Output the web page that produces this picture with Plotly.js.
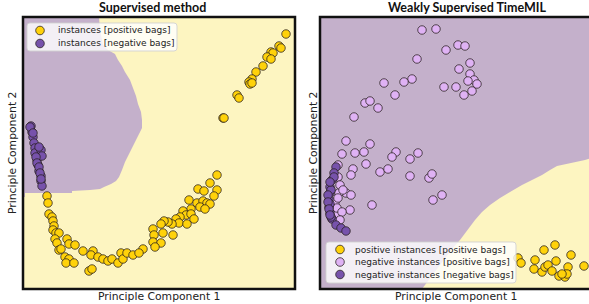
<!DOCTYPE html>
<html>
<head>
<meta charset="utf-8">
<script src="https://cdn.plot.ly/plotly-3.0.1.min.js"></script>
<style>html,body{margin:0;padding:0;background:#fff;}#chart{width:589px;height:304px;}</style>
</head>
<body>
<div id="chart"></div>
<script>
// ---------------- Data (PCA coordinates) ----------------
// Left panel: Supervised method
const supPosX = [263,256,258,248,250,244,248,240,233,229,226,227,229,214,216,200,201,
  194,187,175,181,194,191,166,174,180,184,187,177,182,168,160,163,168,171,157,153,156,164,149,145,141,138,150,130,131,140,130,138,132,120,
  24,25,26,29,30,31,30,33,36,32,34,36,38,44,46,52,42,46,43,51,60,70,68,75,80,85,89,95,98,100,104,110,116,66,69];
const supPosY = [255,243,241,237,236,232,230,223,217,210,207,205,206,194,191,171,171,
  114,106,100,98,99,93,89,86,88,86,85,82,80,80,78,74,75,70,72,70,66,65,65,67,68,65,54,60,54,56,47,46,42,40,
  93,86,75,72,68,63,59,56,56,50,46,39,40,50,45,44,32,30,26,26,38,38,34,32,30,28,30,26,36,30,36,34,36,18,20];
const supNegX = [8,9,10,11,12,12,14,15,16,18,18,19,18,19,16,7,10,13,14,16,17,18];
const supNegY = [163,157,152,146,141,136,129,124,118,113,108,103,139,133,142,162,156,132,126,122,116,110];
// decision region (negative class) boundary, left panel
const supRegionX = [0,76,77,80,85,92,95,99,102,107,110,113,115,118,119,119,116,113,109,105,102,99,96,93,88,81,77,67,49,49,2,2,0,0];
const supRegionY = [272,272,259,244,239,235,229,223,217,209,201,193,185,177,169,161,155,149,142,134,127,119,112,108,105,102,100,99,98,96,96,92,92,272];

// Right panel: Weakly Supervised TimeMIL
const milPosX = [224,235,251,264,198,201,215,236,214,222,225,228,232,239,245,248,247,242];
const milPosY = [39,44,34,23,31,26,29,28,20,17,22,24,18,13,12,22,15,15];
const milNegPosX = [102,116,126,138,145,97,150,139,150,154,148,157,152,144,136,124,92,84,64,75,45,50,58,34,26,50,22,35,44,76,98,72,90,46,33,31,60,68,90,109,112,18,18,26,31,52,30,113,122,15,16,19,18,20,23,17,22,20];
const milNegPosY = [259,260,239,244,243,230,226,220,215,209,208,205,198,194,202,202,210,207,206,194,186,188,181,172,148,145,135,136,137,137,136,132,130,125,120,114,117,120,113,111,115,124,112,96,94,84,79,89,94,87,74,96,91,104,99,81,77,69];
const milNegNegX = [16,14,12,10,10,9,9,10,12,16,21,26,14,11,10,11,10,8,8,9,10];
const milNegNegY = [122,116,109,102,96,89,82,76,70,64,61,58,112,99,85,72,107,94,87,80,74];
// decision region (negative class) boundary, right panel
const milRegionX = [0,0,272,272,265,255,245,237,230,222,212,202,190,180,170,162,155,148,140,132,126,120,115,110,105,102,0];
const milRegionY = [0,272,272,131,129,127,125,123,119,114,109,104,97,91,84,77,69,60,49,40,32,24,17,10,4,0,0];

// legend labels
const supLabels = ['instances [positive bags]', 'instances [negative bags]'];
const milLabels = ['positive instances [positive bags]', 'negative instances [positive bags]', 'negative instances [negative bags]'];
const panelTitles = ['Supervised method', 'Weakly Supervised TimeMIL'];
const xTitle = 'Principle Component 1';
const yTitle = 'Principle Component 2';

// ---------------- Styling ----------------
const PURPLE_BG = '#c4b0cb';
const YELLOW_BG = '#fdf5c1';
const YELLOW = '#ffd20a';
const LIGHT = '#dfb2f4';
const DARK = '#7752ab';
const EDGE = 'rgba(40,30,30,0.85)';
const W = 589, H = 304;
const px = v => v / W, py = v => 1 - v / H;

function region(x, y, xa, ya) {
  return {x, y, xaxis: xa, yaxis: ya, type: 'scatter', mode: 'lines', fill: 'toself',
    fillcolor: PURPLE_BG, line: {width: 0, color: PURPLE_BG}, hoverinfo: 'skip', showlegend: false};
}
function pts(x, y, color, name, xa, ya) {
  return {x, y, xaxis: xa, yaxis: ya, type: 'scatter', mode: 'markers', name, showlegend: false,
    marker: {size: 8.5, color, line: {width: 0.9, color: EDGE}}};
}

const data = [
  region(supRegionX, supRegionY, 'x', 'y'),
  region(milRegionX, milRegionY, 'x2', 'y2'),
  pts(supPosX, supPosY, YELLOW, supLabels[0], 'x', 'y'),
  pts(supNegX, supNegY, DARK, supLabels[1], 'x', 'y'),
  pts(milPosX, milPosY, YELLOW, milLabels[0], 'x2', 'y2'),
  pts(milNegPosX, milNegPosY, LIGHT, milLabels[1], 'x2', 'y2'),
  pts(milNegNegX, milNegNegY, DARK, milLabels[2], 'x2', 'y2')
];

const axBase = {showgrid: false, zeroline: false, showticklabels: false, ticks: '', showline: false, fixedrange: true};

// legend builder (drawn as shapes + annotations for compact matplotlib-like rows)
const shapes = [];
const annotations = [];
function roundRect(x0, y0, x1, y1, r) {
  // pixel coords -> paper path
  const X = v => px(v), Y = v => py(v);
  return `M${X(x0 + r)},${Y(y0)} L${X(x1 - r)},${Y(y0)} Q${X(x1)},${Y(y0)} ${X(x1)},${Y(y0 + r)} ` +
         `L${X(x1)},${Y(y1 - r)} Q${X(x1)},${Y(y1)} ${X(x1 - r)},${Y(y1)} L${X(x0 + r)},${Y(y1)} ` +
         `Q${X(x0)},${Y(y1)} ${X(x0)},${Y(y1 - r)} L${X(x0)},${Y(y0 + r)} Q${X(x0)},${Y(y0)} ${X(x0 + r)},${Y(y0)} Z`;
}
function buildLegend(box, markerX, textX, rowsY, labels, colors) {
  shapes.push({type: 'path', xref: 'paper', yref: 'paper', path: roundRect(box[0], box[1], box[2], box[3], 3),
    fillcolor: 'rgba(255,255,255,0.8)', line: {color: 'rgba(210,210,210,0.9)', width: 1}, layer: 'above'});
  labels.forEach((lab, i) => {
    shapes.push({type: 'circle', xref: 'paper', yref: 'paper', xsizemode: 'pixel', ysizemode: 'pixel',
      xanchor: px(markerX), yanchor: py(rowsY[i]), x0: -4.3, x1: 4.3, y0: -4.3, y1: 4.3,
      fillcolor: colors[i], line: {color: EDGE, width: 0.9}, layer: 'above'});
    annotations.push({text: lab, xref: 'paper', yref: 'paper', x: px(textX), y: py(rowsY[i]),
      xanchor: 'left', yanchor: 'middle', showarrow: false,
      font: {family: 'DejaVu Sans', size: 9, color: '#222'}});
  });
}
buildLegend([27, 23, 177, 51], 40, 56, [30.5, 43.5], supLabels, [YELLOW, DARK]);
buildLegend([326, 242, 516, 283], 340, 353, [249.5, 262, 274.5], milLabels, [YELLOW, LIGHT, DARK]);

// frames
shapes.push({type: 'rect', xref: 'x domain', yref: 'y domain', x0: 0, x1: 1, y0: 0, y1: 1, line: {color: '#111', width: 2.5}, layer: 'above'});
shapes.push({type: 'rect', xref: 'x2 domain', yref: 'y2 domain', x0: 0, x1: 1.05, y0: 0, y1: 1, line: {color: '#111', width: 2.5}, layer: 'above'});

// titles
annotations.push({text: '<b>' + panelTitles[0] + '</b>', xref: 'paper', yref: 'paper', x: px(152), y: py(8),
  showarrow: false, xanchor: 'center', yanchor: 'middle', font: {family: 'Lato', size: 12.5, color: '#111'}});
annotations.push({text: '<b>' + panelTitles[1] + '</b>', xref: 'paper', yref: 'paper', x: px(467), y: py(8),
  showarrow: false, xanchor: 'center', yanchor: 'middle', font: {family: 'Lato', size: 12.5, color: '#111'}});
// axis titles
[[159, 456]].forEach(() => {});
annotations.push({text: xTitle, xref: 'paper', yref: 'paper', x: px(159), y: py(296.5), showarrow: false,
  xanchor: 'center', yanchor: 'middle', font: {family: 'DejaVu Sans', size: 10.8, color: '#222'}});
annotations.push({text: xTitle, xref: 'paper', yref: 'paper', x: px(456), y: py(296.5), showarrow: false,
  xanchor: 'center', yanchor: 'middle', font: {family: 'DejaVu Sans', size: 10.8, color: '#222'}});
annotations.push({text: yTitle, xref: 'paper', yref: 'paper', x: px(12), y: py(153), showarrow: false, textangle: -90,
  xanchor: 'center', yanchor: 'middle', font: {family: 'DejaVu Sans', size: 10.8, color: '#222'}});
annotations.push({text: yTitle, xref: 'paper', yref: 'paper', x: px(313), y: py(153), showarrow: false, textangle: -90,
  xanchor: 'center', yanchor: 'middle', font: {family: 'DejaVu Sans', size: 10.8, color: '#222'}});

const layout = {
  width: W, height: H,
  margin: {l: 0, r: 0, t: 0, b: 0},
  paper_bgcolor: '#ffffff',
  plot_bgcolor: YELLOW_BG,
  showlegend: false,
  font: {family: 'DejaVu Sans', color: '#222'},
  xaxis: Object.assign({}, axBase, {domain: [px(23), px(295)], range: [0, 272]}),
  yaxis: Object.assign({}, axBase, {domain: [py(289), py(17)], range: [0, 272]}),
  xaxis2: Object.assign({}, axBase, {domain: [px(320), 1], range: [0, 269], anchor: 'y2'}),
  yaxis2: Object.assign({}, axBase, {domain: [py(289), py(17)], range: [0, 272], anchor: 'x2'}),
  shapes, annotations
};

Plotly.newPlot('chart', data, layout, {displayModeBar: false, staticPlot: true});
</script>
</body>
</html>
